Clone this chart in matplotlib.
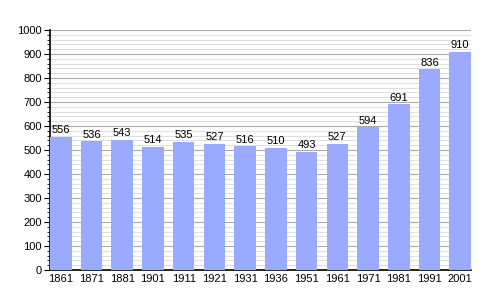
import numpy as np
import matplotlib
matplotlib.use("Agg")
import matplotlib.pyplot as plt
from matplotlib.ticker import MultipleLocator

# Population data
years = ["1861", "1871", "1881", "1901", "1911", "1921", "1931",
         "1936", "1951", "1961", "1971", "1981", "1991", "2001"]
population = [556, 536, 543, 514, 535, 527, 516, 510, 493, 527, 594, 691, 836, 910]

plt.rcParams['font.family'] = ['Liberation Sans', 'DejaVu Sans']

fig = plt.figure(figsize=(5, 3), dpi=100)
ax = fig.add_axes([0.10, 0.10, 0.842, 0.80])

x = np.arange(len(years))
ax.bar(x, population, width=0.7, color='#99aaff', zorder=3)

for xi, val in zip(x, population):
    ax.text(xi, val + 6, str(val), ha='center', va='bottom', fontsize=8, zorder=4)

ax.set_xlim(-0.35, len(years) - 0.65)
ax.set_ylim(0, 1000)
ax.set_xticks(x)
ax.set_xticklabels(years, fontsize=8)
ax.yaxis.set_major_locator(MultipleLocator(100))
ax.yaxis.set_minor_locator(MultipleLocator(20))
ax.tick_params(axis='y', which='major', length=4, labelsize=8, pad=2)
ax.tick_params(axis='y', which='minor', length=2)
ax.tick_params(axis='x', length=0, pad=3)

ax.grid(axis='y', which='major', color='#aaaaaa', linewidth=0.8, zorder=0)
ax.grid(axis='y', which='minor', color='#e0e0e0', linewidth=0.8, zorder=0)
ax.set_axisbelow(True)

for side in ['top', 'right']:
    ax.spines[side].set_visible(False)
ax.spines['left'].set_linewidth(1.2)
ax.spines['bottom'].set_linewidth(1.2)

plt.savefig('out.png', dpi=100)
